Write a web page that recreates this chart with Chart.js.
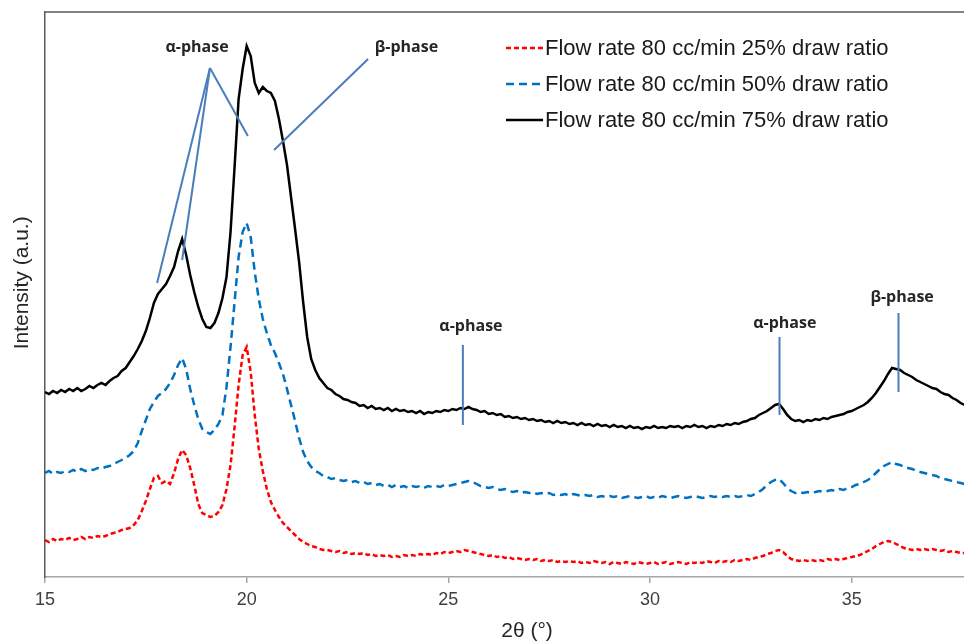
<!DOCTYPE html>
<html>
<head>
<meta charset="utf-8">
<script src="https://cdn.jsdelivr.net/npm/chart.js@4.4.1/dist/chart.umd.min.js"></script>
<style>
    html, body { margin: 0; padding: 0; background: #fff; overflow: hidden; }
    #wrap { width: 1015px; height: 643px; position: relative; }
</style>
</head>
<body>
<div id="wrap"><canvas id="grafico-xrd"></canvas></div>
<script>
// Varredura 2θ: de 15.0° a 37.8°, passo 0.1°
const angleStart = 15.0;
const angleStep = 0.1;

// Intensidades (a.u.), uma linha por grau
const draw25 = [
    37, 35, 38, 36, 38, 37, 39, 37, 38, 40,
    38, 40, 39, 41, 40, 41, 43, 44, 45, 47,
    48, 49, 52, 57, 66, 76, 88, 99, 101, 94,
    96, 93, 104, 118, 127, 122, 109, 92, 73, 64,
    62, 60, 61, 65, 72, 88, 112, 150, 192, 222,
    230, 205, 162, 128, 106, 88, 75, 67, 60, 54,
    50, 46, 42, 38, 35, 33, 31, 30, 28, 27,
    27, 26, 25, 26, 24, 25, 23, 24, 23, 24,
    22, 23, 21, 22, 21, 22, 20, 21, 20, 22,
    21, 22, 21, 23, 22, 23, 22, 24, 23, 25,
    24, 25, 26, 25, 27, 26, 25, 24, 23, 22,
    21, 22, 20, 21, 19, 20, 18, 19, 18, 17,
    18, 17, 18, 16, 17, 16, 17, 15, 16, 15,
    16, 15, 16, 14, 15, 14, 16, 15, 14, 15,
    13, 15, 14, 13, 15, 14, 13, 15, 14, 13,
    14, 15, 13, 14, 15, 13, 14, 15, 14, 13,
    15, 14, 15, 14, 16, 15, 14, 16, 15, 16,
    15, 17, 16, 17, 18, 17, 19, 20, 21, 23,
    24, 26, 27, 25, 21, 18, 17, 16, 17, 16,
    17, 16, 17, 16, 18, 17, 18, 17, 18, 19,
    20, 21, 22, 24, 26, 28, 31, 33, 35, 36,
    35, 33, 31, 29, 28, 27, 28, 27, 28, 27,
    28, 27, 26, 27, 25, 26, 25, 24, 24
];

const draw50 = [
    104, 106, 103, 105, 104, 106, 105, 107, 105, 108,
    106, 108, 107, 109, 108, 110, 111, 113, 115, 117,
    119, 122, 126, 134, 146, 157, 168, 175, 181, 184,
    188, 194, 202, 212, 219, 208, 188, 172, 158, 148,
    145, 143, 147, 153, 162, 190, 230, 275, 320, 345,
    354, 340, 305, 278, 258, 244, 232, 224, 214, 203,
    188, 172, 156, 139, 125, 116, 110, 106, 104, 101,
    100, 98, 99, 97, 96, 97, 95, 96, 94, 95,
    93, 94, 92, 93, 91, 92, 90, 92, 90, 91,
    89, 91, 90, 91, 89, 91, 90, 91, 90, 92,
    91, 92, 93, 94, 95, 96, 95, 93, 91, 90,
    89, 90, 88, 87, 88, 86, 85, 86, 84, 85,
    84, 85, 83, 84, 83, 84, 82, 83, 82, 83,
    81, 83, 82, 81, 82, 81, 82, 80, 81, 80,
    81, 80, 81, 79, 80, 81, 80, 79, 80, 81,
    79, 80, 79, 81, 80, 79, 80, 81, 80, 79,
    80, 81, 80, 79, 80, 81, 80, 81, 80, 81,
    80, 81, 80, 81, 82, 81, 83, 85, 88, 92,
    95, 97, 98, 94, 89, 86, 84, 85, 84, 85,
    84, 85, 86, 85, 86, 87, 86, 88, 87, 89,
    90, 92, 93, 95, 97, 100, 104, 108, 111, 113,
    115, 113, 112, 110, 109, 108, 106, 105, 104, 103,
    102, 101, 99, 98, 97, 96, 95, 94, 93
];

const draw75 = [
    185, 183, 186, 184, 187, 185, 188, 186, 189, 186,
    188, 191, 189, 192, 194, 192, 196, 199, 201, 206,
    209, 215, 221, 228, 236, 246, 259, 274, 283, 288,
    293, 301, 310, 326, 338, 322, 302, 285, 270, 258,
    250, 249, 254, 264, 279, 300, 345, 410, 478, 508,
    531, 521, 494, 484, 490, 486, 484, 476, 458, 436,
    412, 380, 348, 315, 275, 240, 218, 207, 199, 194,
    189, 187, 183, 181, 178, 177, 175, 174, 171, 172,
    169, 171, 168, 169, 167, 169, 166, 168, 166, 167,
    165, 166, 164, 166, 163, 165, 164, 166, 165, 167,
    166, 168, 167, 169, 168, 170, 168, 167, 165, 166,
    163, 164, 162, 163, 160, 161, 159, 160, 158, 159,
    157, 158, 156, 157, 155, 156, 154, 156, 154, 155,
    153, 154, 152, 154, 152, 153, 151, 153, 151, 152,
    150, 152, 150, 151, 149, 151, 149, 150, 148, 150,
    149, 151, 149, 150, 149, 151, 150, 151, 149, 151,
    150, 152, 150, 151, 149, 151, 150, 152, 151, 153,
    152, 154, 153, 155, 156, 158, 159, 162, 164, 166,
    169, 172, 173, 168, 162, 158, 156, 157, 155, 157,
    156, 158, 157, 159, 158, 160, 161, 162, 163, 165,
    166, 168, 170, 172, 175, 179, 184, 190, 196, 203,
    209, 208, 207, 204, 202, 200, 197, 195, 193, 191,
    189, 188, 185, 183, 182, 179, 177, 174, 172
];

const seriesLabels = [
    'Flow rate 80 cc/min 25% draw ratio',
    'Flow rate 80 cc/min 50% draw ratio',
    'Flow rate 80 cc/min 75% draw ratio'
];

const xTicks = [15, 20, 25, 30, 35];

const twoTheta = draw75.map((_, i) => +(angleStart + i * angleStep).toFixed(1));

// Marcações das fases (em coordenadas do gráfico: 2θ, intensidade)
const phaseLabels = [
    { text: 'α-phase', x: 18.77, y: 530 },
    { text: 'β-phase', x: 23.96, y: 530 },
    { text: 'α-phase', x: 25.56, y: 251 },
    { text: 'α-phase', x: 33.34, y: 254 },
    { text: 'β-phase', x: 36.25, y: 280 }
];
const phaseLines = [
    [19.09, 509, 17.78, 294],
    [19.09, 509, 18.40, 317],
    [19.09, 509, 20.03, 441],
    [23.01, 518, 20.68, 427],
    [25.36, 232, 25.36, 152],
    [33.21, 240, 33.21, 162],
    [36.16, 264, 36.16, 185]
];

const FONT = 'Arial, "Liberation Sans", sans-serif';

function toPoints(values) {
    return values.map((v, i) => ({ x: twoTheta[i], y: v }));
}

// Borda superior da área do gráfico + anotações
const phasePlugin = {
    id: 'phasePlugin',
    afterDatasetsDraw(chart) {
        const { ctx, chartArea } = chart;
        const sx = chart.scales.x, sy = chart.scales.y;
        ctx.save();
        ctx.strokeStyle = '#595959';
        ctx.lineWidth = 1.5;
        ctx.beginPath();
        ctx.moveTo(chartArea.left, chartArea.top);
        ctx.lineTo(chartArea.right, chartArea.top);
        ctx.stroke();

        ctx.strokeStyle = '#4a7ebb';
        ctx.lineWidth = 2;
        phaseLines.forEach(l => {
            ctx.beginPath();
            ctx.moveTo(sx.getPixelForValue(l[0]), sy.getPixelForValue(l[1]));
            ctx.lineTo(sx.getPixelForValue(l[2]), sy.getPixelForValue(l[3]));
            ctx.stroke();
        });

        ctx.fillStyle = '#262626';
        ctx.font = 'bold 16px "Open Sans", sans-serif';
        ctx.textAlign = 'center';
        ctx.textBaseline = 'middle';
        phaseLabels.forEach(p => {
            ctx.fillText(p.text, sx.getPixelForValue(p.x), sy.getPixelForValue(p.y));
        });
        ctx.restore();
    }
};

// Legenda dentro da área do gráfico, canto superior direito
const legendPlugin = {
    id: 'insideLegend',
    afterDraw(chart) {
        const { ctx, chartArea } = chart;
        const left = chartArea.left + 461;
        const top = chartArea.top + 36;
        ctx.save();
        ctx.font = '22px ' + FONT;
        ctx.textBaseline = 'middle';
        ctx.textAlign = 'left';
        chart.data.datasets.forEach((ds, i) => {
            const y = top + i * 36;
            ctx.strokeStyle = ds.borderColor;
            ctx.lineWidth = ds.borderWidth;
            ctx.setLineDash(ds.borderDash || []);
            ctx.beginPath();
            ctx.moveTo(left, y);
            ctx.lineTo(left + 37, y);
            ctx.stroke();
            ctx.setLineDash([]);
            ctx.fillStyle = '#1a1a1a';
            ctx.fillText(ds.label, left + 39, y + 1);
        });
        ctx.restore();
    }
};

const ctxXrd = document.getElementById('grafico-xrd').getContext('2d');
const xrdChart = new Chart(ctxXrd, {
    type: 'line',
    data: {
        datasets: [{
            label: seriesLabels[0],
            data: toPoints(draw25),
            borderColor: '#ff0000',
            borderWidth: 2.5,
            borderDash: [5, 3],
            pointRadius: 0,
            fill: false
        }, {
            label: seriesLabels[1],
            data: toPoints(draw50),
            borderColor: '#0070c0',
            borderWidth: 2.5,
            borderDash: [8, 5],
            pointRadius: 0,
            fill: false
        }, {
            label: seriesLabels[2],
            data: toPoints(draw75),
            borderColor: '#000000',
            borderWidth: 2.5,
            pointRadius: 0,
            fill: false
        }]
    },
    options: {
        responsive: true,
        maintainAspectRatio: false,
        animation: false,
        layout: {
            padding: { top: 12, right: 6, left: 0, bottom: 0 }
        },
        plugins: {
            legend: { display: false },
            tooltip: { enabled: false }
        },
        scales: {
            x: {
                type: 'linear',
                min: 15,
                max: 38.9,
                afterBuildTicks: s => { s.ticks = xTicks.map(v => ({ value: v })); },
                afterFit: s => { s.height = 66; },
                ticks: {
                    font: { family: FONT, size: 18 },
                    color: '#404040',
                    padding: 6
                },
                grid: {
                    drawOnChartArea: false,
                    drawTicks: true,
                    tickLength: 6,
                    color: '#a6a6a6',
                    lineWidth: 1.5
                },
                border: { color: '#a6a6a6', width: 1.5 },
                title: {
                    display: true,
                    text: '2θ (°)',
                    font: { family: FONT, size: 21, lineHeight: 1 },
                    color: '#262626',
                    padding: { top: 0, bottom: 1 }
                }
            },
            y: {
                min: 0,
                max: 565,
                afterFit: s => { s.width = 45; },
                ticks: { display: false },
                grid: { display: false },
                border: { display: true, color: '#595959', width: 1.5 },
                title: {
                    display: true,
                    text: '    Intensity (a.u.)',
                    font: { family: FONT, size: 21, lineHeight: 1 },
                    color: '#262626',
                    padding: { top: 12, bottom: 0 }
                }
            }
        }
    },
    plugins: [phasePlugin, legendPlugin]
});
</script>
</body>
</html>
